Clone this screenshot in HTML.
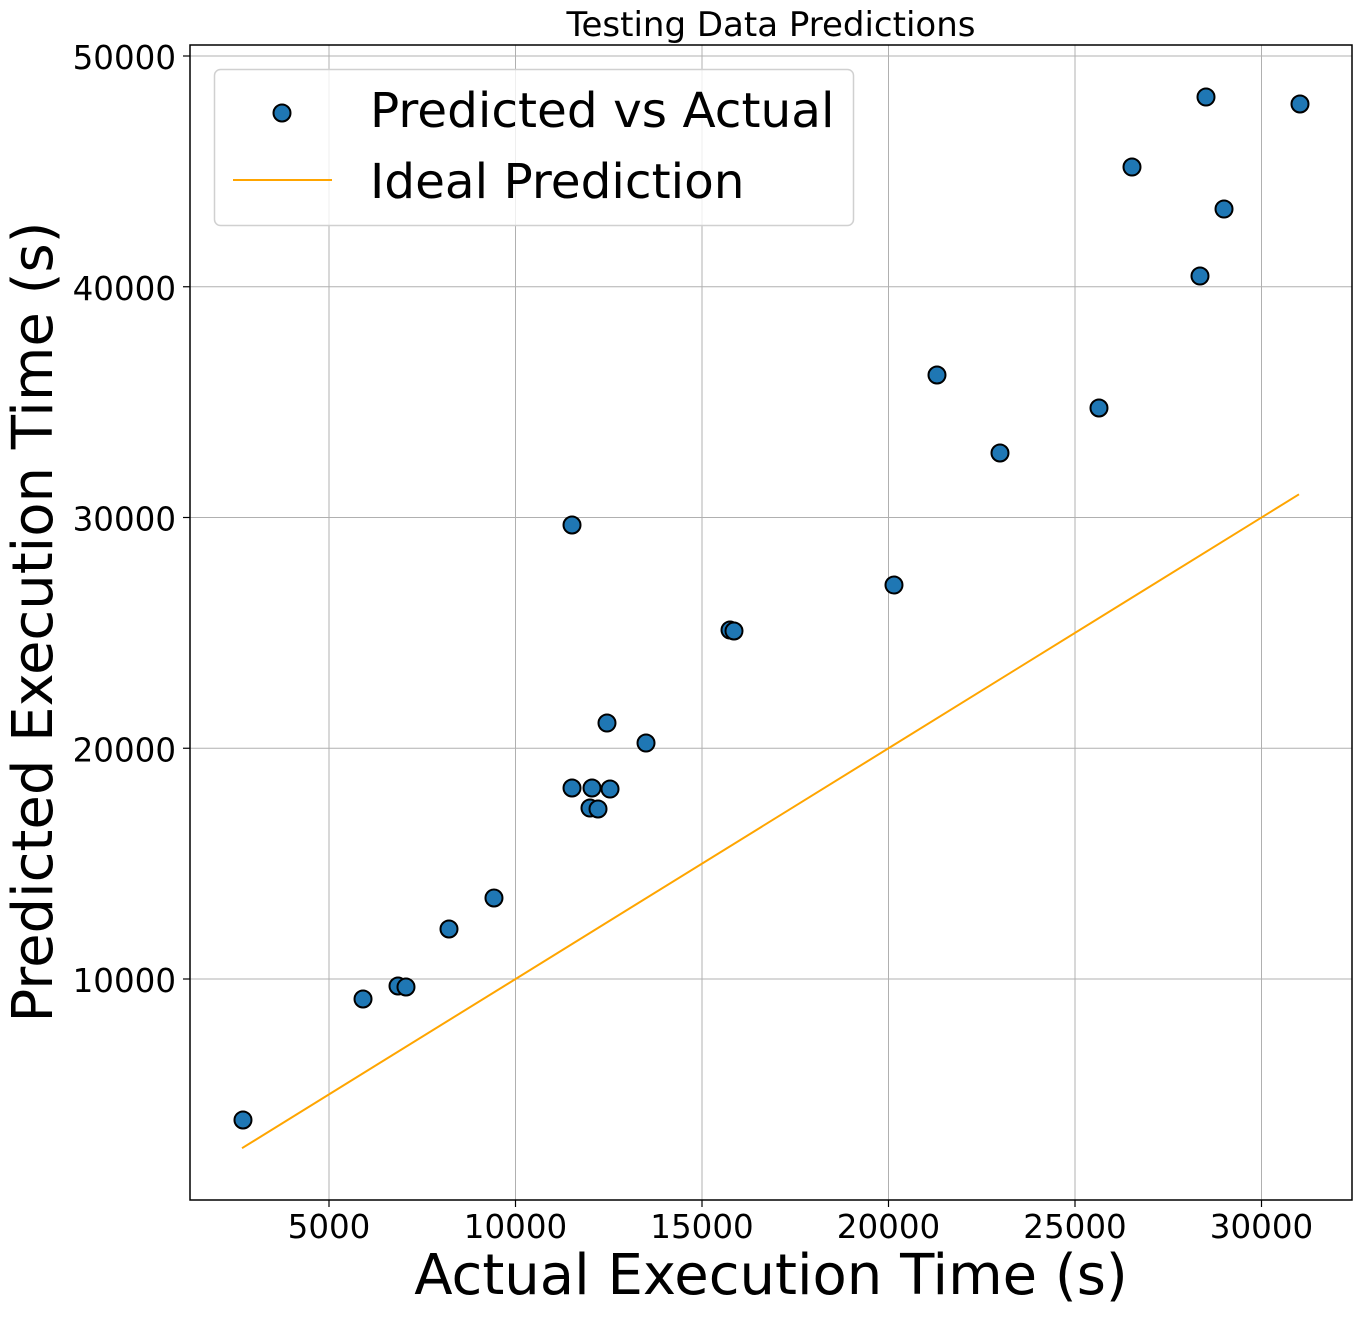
<!DOCTYPE html>
<html><head><meta charset="utf-8"><style>
body{margin:0;background:#fff;}
svg text{font-family:"DejaVu Sans","Liberation Sans",sans-serif;}
</style></head><body>
<svg id="chart" width="1362" height="1313" viewBox="0 0 1362 1313" xmlns="http://www.w3.org/2000/svg">
<rect x="0" y="0" width="1362" height="1313" fill="#fff"/>
<g id="grid"></g>
<g id="ticks"></g>
<g id="marks"></g>
<rect x="190" y="45" width="1162" height="1155" fill="none" stroke="#000" stroke-width="1.5"/>
<text x="771" y="36" font-size="34" text-anchor="middle">Testing Data Predictions</text>
<text x="771" y="1294" font-size="56" text-anchor="middle">Actual Execution Time (s)</text>
<text transform="translate(52,622) rotate(-90)" font-size="56" text-anchor="middle">Predicted Execution Time (s)</text>
<g>
<rect x="214.5" y="69.5" width="639" height="156" rx="6" fill="#fff" fill-opacity="0.8" stroke="#d0d0d0" stroke-width="1.5"/>
<circle cx="282" cy="113" r="8.5" fill="#1f77b4" stroke="#000" stroke-width="2"/>
<text x="370" y="127" font-size="48.5">Predicted vs Actual</text>
<line x1="233" y1="180" x2="332" y2="180" stroke="#ffa500" stroke-width="2"/>
<text x="370" y="198" font-size="48.5">Ideal Prediction</text>
</g>
</svg>
<script>
const actual = [2694,5912,6850,7064,8217,9423,11515,11515,12051,11997,12212,12534,12453,13499,15751,15858,20147,21300,22989,25643,26528,28351,28512,28995,31032];
const predicted = [3890,9133,9697,9653,12167,13510,29675,18277,18277,17410,17367,18233,21093,20227,25124,25081,27074,36175,32795,34745,45189,40465,48222,43369,47920];
const xTicks = [5000,10000,15000,20000,25000,30000];
const yTicks = [10000,20000,30000,40000,50000];
const idealRange = [2668,31005];
const NS="http://www.w3.org/2000/svg";
function sx(v){return 142.5+v*0.0373;}
function sy(v){return 1209.75-v*0.023075;}
function mk(tag,attrs,parent){const e=document.createElementNS(NS,tag);for(const k in attrs)e.setAttribute(k,attrs[k]);parent.appendChild(e);return e;}
const grid=document.getElementById('grid'),ticks=document.getElementById('ticks'),marks=document.getElementById('marks');
xTicks.forEach(t=>{
  const g=mk('line',{x1:sx(t),x2:sx(t),y1:45,y2:1200,stroke:'#b0b0b0','stroke-width':1},grid);
  
  
  const tk=mk('line',{x1:sx(t),x2:sx(t),y1:1200,y2:1207,stroke:'#000','stroke-width':1.2},ticks);
  
  
  const tx=mk('text',{x:sx(t),y:1238,'font-size':32.5,'text-anchor':'middle'},ticks);
  tx.textContent=t;
  
  
});
yTicks.forEach(t=>{
  const g=mk('line',{x1:190,x2:1352,y1:sy(t),y2:sy(t),stroke:'#b0b0b0','stroke-width':1},grid);
  
  
  const tk=mk('line',{x1:183,x2:190,y1:sy(t),y2:sy(t),stroke:'#000','stroke-width':1.2},ticks);
  
  
  const tx=mk('text',{x:176,y:sy(t)+13,'font-size':32.5,'text-anchor':'end'},ticks);
  tx.textContent=t;
  
  
});
const ln=mk('line',{x1:sx(idealRange[0]),y1:sy(idealRange[0]),x2:sx(idealRange[1]),y2:sy(idealRange[1]),stroke:'#ffa500','stroke-width':2},marks);


actual.forEach((a,i)=>{
  const c=mk('circle',{cx:sx(a),cy:sy(predicted[i]),r:8.5,fill:'#1f77b4',stroke:'#000','stroke-width':2},marks);
  
  
});
</script>
</body></html>
